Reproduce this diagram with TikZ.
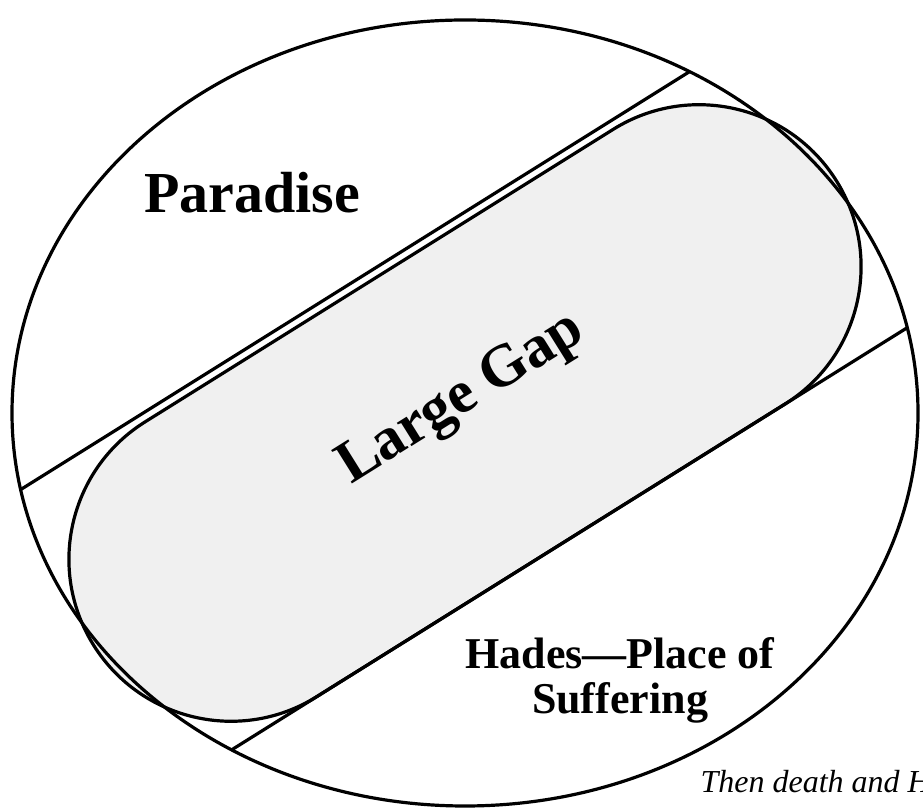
\documentclass[tikz,border=0pt]{standalone}
\usepackage{fontspec}
\setmainfont{Liberation Serif}
\usepackage{tikz}
\usetikzlibrary{positioning, calc}

\begin{document}
\begin{tikzpicture}[
        x=1pt, y=1pt,
        outline/.style={draw=black, line width=3.2pt},
        gapbox/.style={
            rectangle,
            outline,
            fill=black!6,
            rounded corners=162pt,
            minimum width=876pt,
            minimum height=324pt,
            rotate=32
        },
        gaplabel/.style={rotate=32, font=\fontsize{60}{60}\selectfont\bfseries},
        regionlabel/.style={align=center, font=\fontsize{58}{60}\selectfont\bfseries},
        hadeslabel/.style={align=center, font=\fontsize{44}{45}\selectfont\bfseries},
        versetext/.style={font=\fontsize{32}{34}\selectfont\itshape}
    ]
        \useasboundingbox (0,0) rectangle (923,810);
        \coordinate (mid) at (465,397);

        % the gap between the two sides
        \node[gapbox] (gap) at (mid) {};
        \node[gaplabel] (gaptext) at ($(gap.center)+(-3,13)$) {Large Gap};

        % border lines of the gap, cut by the outer ellipse
        \begin{scope}
            \clip (mid) ellipse [x radius=453, y radius=393];
            \begin{scope}[shift={(mid)}, rotate=32]
                \draw[outline] (-700,170.5) -- (700,170.5);
                \draw[outline] (-700,-162) -- (700,-162);
            \end{scope}
        \end{scope}

        \draw[outline] (mid) ellipse [x radius=453, y radius=393];

        \node[regionlabel, anchor=base] (paradise) at (252,597) {Paradise};
        \node[hadeslabel] (hades) at (620,130) {Hades---Place of\\ Suffering};
        \node[versetext, anchor=base west] (verse) at (697,17) {Then death and Hades};
    \end{tikzpicture}
\end{document}
